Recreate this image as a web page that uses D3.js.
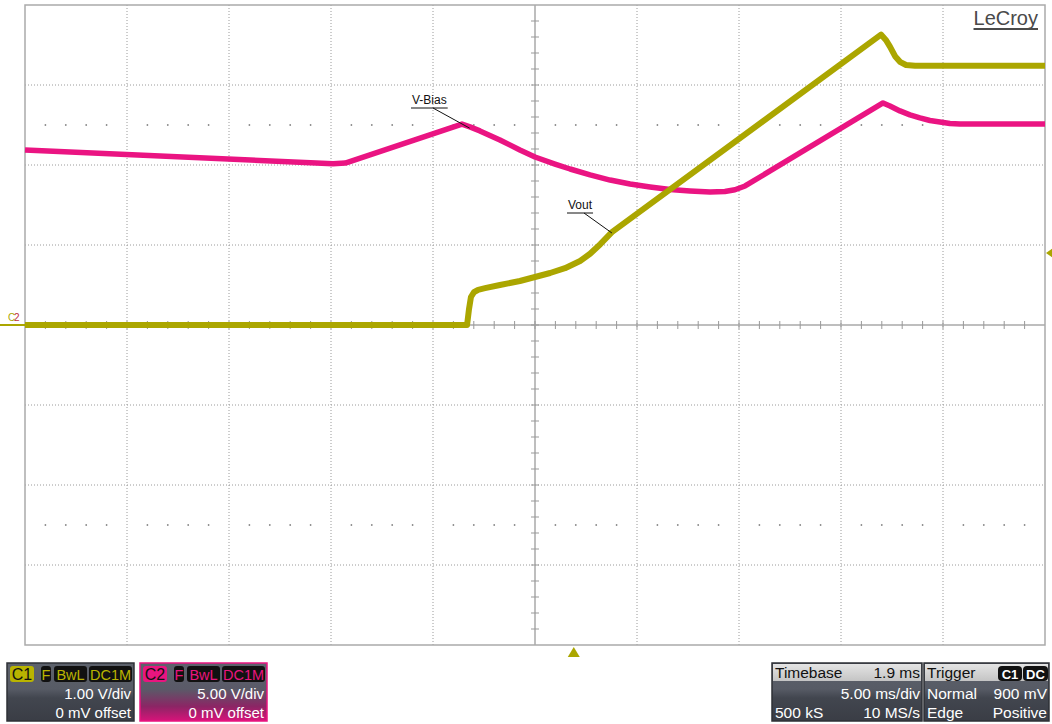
<!DOCTYPE html>
<html>
<head>
<meta charset="utf-8">
<script src="https://cdn.jsdelivr.net/npm/d3@7"></script>
<style>
  body { margin: 0; background: #fff; }
  svg { display: block; font-family: "Liberation Sans", Arial, sans-serif; }
</style>
</head>
<body>
<div id="scope"></div>
<script>
// time in ms relative to trigger, volts
const voutTime   = [-26.9, -5.23, -5.14, -5.04, -4.89, -4.69, -4.35, -3.62, -2.64, -1.9, -1.16, -0.43, 0.31, 0.8, 1.3, 1.87, 15.06, 15.31, 15.5, 15.75, 15.99, 16.29, 16.73, 23.1];
const voutValues = [0, 0, 0.19, 0.35, 0.41, 0.44, 0.46, 0.50, 0.55, 0.60, 0.65, 0.71, 0.80, 0.89, 1.01, 1.16, 3.63, 3.56, 3.48, 3.36, 3.29, 3.25, 3.24, 3.24];

const biasTime   = [-26.9, -11.8, -11.2, -5.48, -5.09, -4.6, -3.62, -2.64, -1.9, -0.92, -0.18, 0.8, 1.78, 2.76, 3.74, 4.72, 5.7, 6.68, 7.41, 7.9, 8.4, 15.16, 15.5, 15.99, 16.48, 16.97, 17.46, 17.95, 18.44, 18.93, 23.1];
const biasValues = [10.94, 10.08, 10.12, 12.56, 12.38, 12.13, 11.56, 10.94, 10.5, 10.06, 9.75, 9.38, 9.06, 8.81, 8.63, 8.47, 8.38, 8.31, 8.34, 8.45, 8.69, 13.88, 13.69, 13.38, 13.13, 12.94, 12.78, 12.69, 12.59, 12.56, 12.56];

const c1Info = ['1.00 V/div', '0 mV offset'];
const c2Info = ['5.00 V/div', '0 mV offset'];
const timebaseInfo = { delay: '1.9 ms', perDiv: '5.00 ms/div', samples: '500 kS', rate: '10 MS/s' };
const triggerInfo = { mode: 'Normal', level: '900 mV', type: 'Edge', slope: 'Positive' };
const triggerLevel = 0.9; // volts on C1

const width = 1052, height = 724;
const plot = { left: 25, right: 1045, top: 5, bottom: 645 };

const yellow = '#aba600';
const pink = '#ea1482';
const gridColor = '#9a9a9a';

const svg = d3.select('#scope').append('svg')
    .attr('width', width)
    .attr('height', height);

svg.append('rect').attr('width', width).attr('height', height).attr('fill', '#fff');

// scales: 10 horizontal divisions (5 ms/div), 8 vertical divisions
const x = d3.scaleLinear().domain([-26.9, 23.1]).range([plot.left, plot.right]);
const yC1 = d3.scaleLinear().domain([-4, 4]).range([plot.bottom, plot.top]);
const yC2 = d3.scaleLinear().domain([-20, 20]).range([plot.bottom, plot.top]);

const divW = (plot.right - plot.left) / 10;
const divH = (plot.bottom - plot.top) / 8;
const cx = plot.left + 5 * divW, cy = plot.top + 4 * divH;

const grid = svg.append('g');

// dotted grid
for (let i = 1; i < 10; i++) {
    if (i === 5) continue;
    grid.append('line')
        .attr('x1', plot.left + i * divW).attr('x2', plot.left + i * divW)
        .attr('y1', plot.top).attr('y2', plot.bottom)
        .attr('stroke', gridColor).attr('stroke-dasharray', '1,2');
}
for (let j = 1; j < 8; j++) {
    if (j === 4) continue;
    grid.append('line')
        .attr('y1', plot.top + j * divH).attr('y2', plot.top + j * divH)
        .attr('x1', plot.left).attr('x2', plot.right)
        .attr('stroke', gridColor).attr('stroke-dasharray', '1,2');
}

// dot rows
[plot.top + 1.5 * divH, plot.top + 6.5 * divH].forEach(yy => {
    for (let k = 1; k < 50; k++) {
        if (k % 5 === 0) continue;
        grid.append('circle')
            .attr('cx', plot.left + k * divW / 5).attr('cy', yy)
            .attr('r', 0.9).attr('fill', '#888');
    }
});

// center axes with minor ticks
grid.append('line').attr('x1', plot.left).attr('x2', plot.right).attr('y1', cy).attr('y2', cy)
    .attr('stroke', '#a8a8a8').attr('stroke-width', 1.5);
grid.append('line').attr('x1', cx).attr('x2', cx).attr('y1', plot.top).attr('y2', plot.bottom)
    .attr('stroke', '#a8a8a8').attr('stroke-width', 1.5);
for (let k = 1; k < 50; k++) {
    const tx = plot.left + k * divW / 5;
    grid.append('line').attr('x1', tx).attr('x2', tx).attr('y1', cy - 4).attr('y2', cy + 4)
        .attr('stroke', '#999');
}
for (let k = 1; k < 40; k++) {
    const ty = plot.top + k * divH / 5;
    grid.append('line').attr('y1', ty).attr('y2', ty).attr('x1', cx - 4).attr('x2', cx + 4)
        .attr('stroke', '#999');
}

// border
grid.append('rect')
    .attr('x', plot.left).attr('y', plot.top)
    .attr('width', plot.right - plot.left).attr('height', plot.bottom - plot.top)
    .attr('fill', 'none').attr('stroke', '#aaa').attr('stroke-width', 1.5);

// traces
const biasLine = d3.line().x((d, i) => x(biasTime[i])).y(d => yC2(d));
const voutLine = d3.line().x((d, i) => x(voutTime[i])).y(d => yC1(d));

svg.append('path').datum(biasValues)
    .attr('d', biasLine)
    .attr('fill', 'none').attr('stroke', pink).attr('stroke-width', 5.5)
    .attr('stroke-linejoin', 'round');

svg.append('path').datum(voutValues)
    .attr('d', voutLine)
    .attr('fill', 'none').attr('stroke', yellow).attr('stroke-width', 6)
    .attr('stroke-linejoin', 'round');

// annotations
function annotate(label, tx, ty, px, tip) {
    const g = svg.append('g');
    const t = g.append('text').attr('x', tx).attr('y', ty)
        .attr('font-size', 12).attr('fill', '#111').text(label);
    const w = t.node().getComputedTextLength();
    g.append('line').attr('x1', tx - 1).attr('x2', tx + w + 1).attr('y1', ty + 4).attr('y2', ty + 4)
        .attr('stroke', '#111');
    g.append('line').attr('x1', px).attr('y1', ty + 4).attr('x2', tip[0]).attr('y2', tip[1])
        .attr('stroke', '#111');
}
annotate('V-Bias', 412, 104, 433, [x(-5.1), yC2(12.3)]);
annotate('Vout', 568, 209, 584, [x(1.87), yC1(1.15)]);

// LeCroy logo
const logo = svg.append('text').attr('x', 1038).attr('y', 25).attr('text-anchor', 'end')
    .attr('font-size', 20).attr('fill', '#4a4a4a').text('LeCroy');
const logoW = logo.node().getComputedTextLength();
svg.append('line').attr('x1', 1038 - logoW).attr('x2', 1038).attr('y1', 29).attr('y2', 29)
    .attr('stroke', '#4a4a4a').attr('stroke-width', 1.8);

// channel ground markers
svg.append('line').attr('x1', 0).attr('x2', plot.left).attr('y1', yC1(0)).attr('y2', yC1(0))
    .attr('stroke', yellow).attr('stroke-width', 2);
svg.append('text').attr('x', 8).attr('y', yC1(0) - 4).attr('font-size', 10).attr('fill', yellow).text('C');
svg.append('text').attr('x', 14).attr('y', yC1(0) - 4).attr('font-size', 10).attr('fill', '#c0303a').text('2');

// trigger level marker (right) and trigger position marker (bottom)
const ty = yC1(triggerLevel);
svg.append('path')
    .attr('d', `M${plot.right + 1},${ty} L${plot.right + 8},${ty - 5} L${plot.right + 8},${ty + 5} Z`)
    .attr('fill', yellow);
const tx0 = x(0);
svg.append('path')
    .attr('d', `M${tx0},${plot.bottom + 2} L${tx0 - 6},${plot.bottom + 12} L${tx0 + 6},${plot.bottom + 12} Z`)
    .attr('fill', yellow);

// info boxes
const defs = svg.append('defs');
function grad(id, stops) {
    const g = defs.append('linearGradient').attr('id', id).attr('x1', 0).attr('x2', 0).attr('y1', 0).attr('y2', 1);
    stops.forEach(s => g.append('stop').attr('offset', s[0]).attr('stop-color', s[1]));
}
grad('gGray', [[0, '#5d626c'], [0.45, '#575b65'], [0.6, '#42464f'], [1, '#3a3d45']]);
grad('gPink', [[0, '#5d626c'], [0.45, '#5a5a68'], [0.75, '#8c2565'], [1, '#d8137a']]);
grad('gLight', [[0, '#e4e4e4'], [1, '#c4c4c4']]);

const boxTop = 663, boxH = 58;

function badge(g, bx, bw, fill, color, label, size) {
    g.append('rect').attr('x', bx).attr('y', boxTop + 3).attr('width', bw).attr('height', 16)
        .attr('rx', 3).attr('fill', fill);
    g.append('text').attr('x', bx + bw / 2).attr('y', boxTop + 16.5).attr('text-anchor', 'middle')
        .attr('font-size', size).attr('fill', color).text(label);
}

function channelBox(bx, label, color, bg, border, info) {
    const g = svg.append('g');
    g.append('rect').attr('x', bx).attr('y', boxTop).attr('width', 127).attr('height', boxH)
        .attr('fill', bg).attr('stroke', border).attr('stroke-width', 1.5);
    badge(g, bx + 3, 24, color, '#111', label, 16);
    badge(g, bx + 34, 10, '#111', color, 'F', 14.5);
    badge(g, bx + 47, 33, '#111', color, 'BwL', 14.5);
    badge(g, bx + 82, 43, '#111', color, 'DC1M', 14.5);
    g.append('text').attr('x', bx + 124).attr('y', boxTop + 36).attr('text-anchor', 'end')
        .attr('font-size', 15).attr('fill', '#fff').text(info[0]);
    g.append('text').attr('x', bx + 124).attr('y', boxTop + 55).attr('text-anchor', 'end')
        .attr('font-size', 15).attr('fill', '#fff').text(info[1]);
}
channelBox(7, 'C1', '#b9b400', 'url(#gGray)', '#2e3036', c1Info);
channelBox(140, 'C2', '#e8157f', 'url(#gPink)', '#e8157f', c2Info);

function infoBox(bx, bw, title, rows, topRight) {
    const g = svg.append('g');
    g.append('rect').attr('x', bx).attr('y', boxTop).attr('width', bw).attr('height', boxH)
        .attr('fill', 'url(#gGray)').attr('stroke', '#2e3036').attr('stroke-width', 1.5);
    g.append('rect').attr('x', bx + 1).attr('y', boxTop + 1).attr('width', bw - 2).attr('height', 17)
        .attr('fill', 'url(#gLight)');
    g.append('text').attr('x', bx + 3).attr('y', boxTop + 15).attr('font-size', 15.5).attr('fill', '#111').text(title);
    topRight(g);
    rows.forEach((r, i) => {
        const yy = boxTop + 36 + i * 19;
        if (r[0]) g.append('text').attr('x', bx + 3).attr('y', yy).attr('font-size', 15.5).attr('fill', '#fff').text(r[0]);
        if (r[1]) g.append('text').attr('x', bx + bw - 2).attr('y', yy).attr('text-anchor', 'end')
            .attr('font-size', 15.5).attr('fill', '#fff').text(r[1]);
    });
}
infoBox(772, 150, 'Timebase', [['', timebaseInfo.perDiv], [timebaseInfo.samples, timebaseInfo.rate]], g => {
    g.append('text').attr('x', 920).attr('y', boxTop + 15).attr('text-anchor', 'end')
        .attr('font-size', 15.5).attr('fill', '#111').text(timebaseInfo.delay);
});
infoBox(924, 125, 'Trigger', [[triggerInfo.mode, triggerInfo.level], [triggerInfo.type, triggerInfo.slope]], g => {
    g.append('rect').attr('x', 998).attr('y', boxTop + 3).attr('width', 24).attr('height', 15).attr('rx', 4).attr('fill', '#111');
    g.append('text').attr('x', 1010).attr('y', boxTop + 15.5).attr('text-anchor', 'middle')
        .attr('font-size', 13).attr('font-weight', 'bold').attr('fill', '#fff').text('C1');
    g.append('rect').attr('x', 1023).attr('y', boxTop + 3).attr('width', 25).attr('height', 15).attr('rx', 4).attr('fill', '#111');
    g.append('text').attr('x', 1035.5).attr('y', boxTop + 15.5).attr('text-anchor', 'middle')
        .attr('font-size', 13).attr('font-weight', 'bold').attr('fill', '#fff').text('DC');
});
</script>
</body>
</html>
